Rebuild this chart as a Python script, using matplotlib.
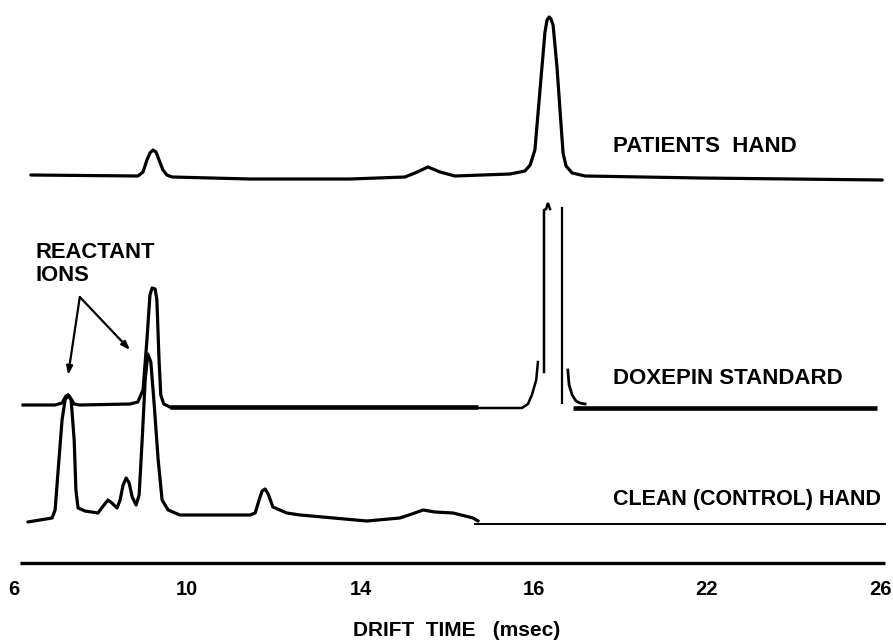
import matplotlib
matplotlib.use("Agg")
import matplotlib.pyplot as plt

# ---------------- data (drift time in ms, response in arbitrary units) ----------------
tick_pos = [6, 10, 14, 18, 22, 26]
tick_labels = ["6", "10", "14", "16", "22", "26"]

patient_t = [6.39, 8.86, 8.98, 9.07, 9.14, 9.21, 9.28, 9.35, 9.44, 9.53, 9.65, 11.45, 13.76,
             15.03, 15.26, 15.56, 15.84, 16.18, 17.46, 17.80, 17.92, 18.03, 18.26, 18.31, 18.36,
             18.40, 18.45, 18.54, 18.68, 18.75, 18.89, 19.19, 21.84, 26.05]
patient_y = [388, 387, 391, 403, 410, 413, 411, 403, 393, 388, 386, 384, 384,
             386, 390, 396, 391, 387, 389, 392, 398, 413, 530, 543, 546,
             544, 538, 496, 410, 397, 390, 387, 385, 383]

# doxepin standard: several pen segments
dox_a_t = [6.21, 6.95, 7.11, 7.20, 7.25, 7.29, 7.39, 7.52, 8.68, 8.86, 8.98, 9.07, 9.14, 9.19,
           9.26, 9.30, 9.35, 9.39, 9.46, 9.60]
dox_a_y = [158, 158, 160, 167, 168, 166, 159, 158, 159, 161, 173, 223, 268, 275,
           274, 263, 203, 168, 159, 156]
dox_b_t = [9.60, 16.72]
dox_b_y = [156, 156]
dox_c_t = [16.72, 17.73, 17.87, 17.96, 18.06, 18.10]
dox_c_y = [155, 155, 159, 168, 183, 201]
dox_d_t = [18.24, 18.24, 18.29, 18.33, 18.38]
dox_d_y = [191, 353, 354, 360, 354]
dox_e_t = [18.66, 18.66]
dox_e_y = [355, 160]
dox_f_t = [18.79, 18.82, 18.89, 18.98, 19.07, 19.19]
dox_f_y = [193, 178, 168, 162, 160, 159]
dox_g_t = [18.91, 25.93]
dox_g_y = [155, 155]

clean_t = [6.32, 6.60, 6.88, 6.95, 7.02, 7.11, 7.18, 7.25, 7.32, 7.39, 7.43, 7.48, 7.64, 7.94,
           8.06, 8.17, 8.26, 8.38, 8.45, 8.52, 8.59, 8.66, 8.73, 8.82, 8.89, 8.96, 9.03, 9.09,
           9.16, 9.23, 9.33, 9.42, 9.56, 9.83, 11.45, 11.57, 11.66, 11.73, 11.80, 11.87, 11.98,
           12.30, 12.61, 14.15, 14.91, 15.19, 15.45, 15.72, 16.14, 16.60, 16.72]
clean_y = [41, 43, 45, 53, 93, 143, 163, 168, 163, 123, 73, 55, 52, 50,
           57, 63, 60, 55, 63, 78, 85, 80, 66, 58, 68, 123, 183, 209,
           201, 163, 103, 63, 53, 48, 48, 50, 63, 72, 74, 69, 56,
           50, 48, 42, 45, 49, 53, 51, 50, 45, 42]
clean_tail_t = [16.65, 26.12]
clean_tail_y = [39, 39]

trace_names = ["PATIENTS  HAND", "DOXEPIN STANDARD", "CLEAN (CONTROL) HAND"]
x_label = "DRIFT  TIME   (msec)"
annot_text = "REACTANT\nIONS"

# ---------------- figure ----------------
W, H = 893, 644
fig = plt.figure(figsize=(W / 100, H / 100), dpi=100)
ax = fig.add_axes([0, 81 / 644, 1, 563 / 644])
ax.set_xlim(5.677, 26.30)
ax.set_ylim(0, 563)
for s in ax.spines.values():
    s.set_visible(False)
ax.set_yticks([])

FONT = ["Liberation Sans", "DejaVu Sans"]
ink = "#000000"

ax.plot(patient_t, patient_y, color=ink, lw=2.3, solid_joinstyle="round", solid_capstyle="round")

ax.plot(dox_a_t, dox_a_y, color=ink, lw=2.3, solid_joinstyle="round")
ax.plot(dox_b_t, dox_b_y, color=ink, lw=3.3, solid_capstyle="butt")
ax.plot(dox_c_t, dox_c_y, color=ink, lw=1.8, solid_joinstyle="round")
ax.plot(dox_d_t, dox_d_y, color=ink, lw=1.8, solid_joinstyle="miter")
ax.plot(dox_e_t, dox_e_y, color=ink, lw=1.6)
ax.plot(dox_f_t, dox_f_y, color=ink, lw=2.0, solid_joinstyle="round")
ax.plot(dox_g_t, dox_g_y, color=ink, lw=3.3, solid_capstyle="butt")

ax.plot(clean_t, clean_y, color=ink, lw=2.3, solid_joinstyle="round", solid_capstyle="round")
ax.plot(clean_tail_t, clean_tail_y, color=ink, lw=1.4)

# horizontal axis line
ax.plot([6.14, 26.12], [0, 0], color=ink, lw=2.4, clip_on=False, solid_capstyle="butt")

ax.set_xticks(tick_pos)
ax.set_xticklabels(tick_labels)
ax.tick_params(axis="x", length=0, pad=12)
for lab in ax.get_xticklabels():
    lab.set_fontfamily(FONT)
    lab.set_fontweight("bold")
    lab.set_fontsize(14.5)

# trace names
ax.text(19.83, 416, trace_names[0], family=FONT, weight="bold", fontsize=16, va="center", ha="left")
ax.text(19.83, 185, trace_names[1], family=FONT, weight="bold", fontsize=16, va="center", ha="left")
ax.text(19.83, 63, trace_names[2], family=FONT, weight="bold", fontsize=15.5, va="center", ha="left")

# reactant ion annotation
ax.text(6.49, 299, annot_text, family=FONT, weight="bold", fontsize=15.8, va="center", ha="left",
        linespacing=1.15)
arrow_kw = dict(arrowstyle="-|>,head_length=0.5,head_width=0.18", color=ink, lw=1.6,
                shrinkA=0, shrinkB=0)
ax.annotate("", xy=(7.25, 188), xytext=(7.52, 266), arrowprops=arrow_kw)
ax.annotate("", xy=(8.68, 213), xytext=(7.52, 266), arrowprops=arrow_kw)

fig.text(457 / W, 1 - 630 / H, x_label, family=FONT, weight="bold", fontsize=15,
         ha="center", va="center")

fig.savefig("out.png", dpi=100)
